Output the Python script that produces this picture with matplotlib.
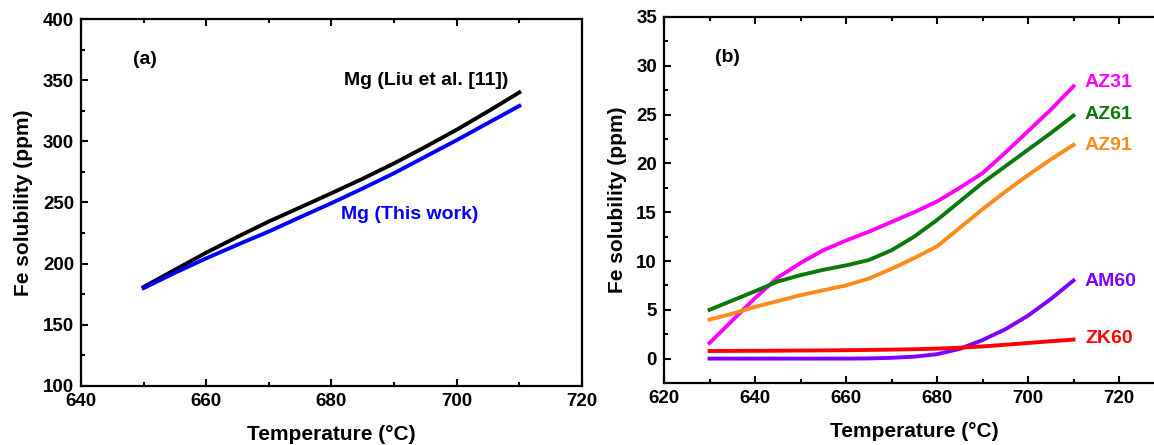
import matplotlib
matplotlib.use("Agg")
import matplotlib.pyplot as plt
from matplotlib.ticker import MultipleLocator

plt.rcParams["font.family"] = ["Liberation Sans", "DejaVu Sans"]
plt.rcParams["font.weight"] = "bold"

# ------------------------------------------------------------
# Data
# ------------------------------------------------------------
temp_a = [650, 655, 660, 665, 670, 675, 680, 685, 690, 695, 700, 705, 710]
mg_liu = [181, 195, 209, 222, 234.5, 246, 257.6, 269.5, 282, 295.5, 309.5, 324.5, 340]
mg_this = [180, 192.5, 204.4, 215.5, 226.3, 238, 249.5, 261.5, 274, 287.5, 301, 315, 329]

temp_b = [630, 635, 640, 645, 650, 655, 660, 665, 670, 675, 680, 685, 690, 695, 700, 705, 710]
az31 = [1.6, 3.9, 6.2, 8.3, 9.8, 11.1, 12.1, 13.0, 14.0, 15.0, 16.1, 17.5, 19.0, 21.1, 23.3, 25.5, 27.9]
az61 = [5.0, 5.95, 6.9, 7.9, 8.55, 9.1, 9.55, 10.1, 11.1, 12.5, 14.2, 16.1, 18.0, 19.7, 21.4, 23.1, 24.9]
az91 = [4.0, 4.6, 5.3, 5.9, 6.5, 7.0, 7.5, 8.2, 9.2, 10.3, 11.5, 13.4, 15.3, 17.1, 18.8, 20.4, 21.9]
am60 = [0, 0, 0, 0, 0, 0, 0, 0.02, 0.08, 0.2, 0.45, 1.0, 1.9, 3.0, 4.4, 6.1, 8.0]
zk60 = [0.78, 0.79, 0.8, 0.81, 0.83, 0.84, 0.86, 0.89, 0.92, 0.96, 1.02, 1.12, 1.25, 1.42, 1.6, 1.78, 1.95]

alloys = ["AZ31", "AZ61", "AZ91", "AM60", "ZK60"]
alloy_vals = [az31, az61, az91, am60, zk60]
alloy_colors = ["#FF00FF", "#0A780A", "#FF8C1A", "#8000FF", "#FF0000"]
alloy_label_y = [28.3, 25.0, 21.8, 7.9, 2.1]

# ------------------------------------------------------------
# Figure
# ------------------------------------------------------------
fig = plt.figure(figsize=(11.54, 4.45), dpi=100)
ax1 = fig.add_axes([0.0702, 0.1326, 0.4341, 0.8247])
ax2 = fig.add_axes([0.5754, 0.1393, 0.4337, 0.8225])


def style(ax):
    for s in ax.spines.values():
        s.set_linewidth(1.6)
    ax.tick_params(which="both", direction="in", top=True, right=False,
                   labelsize=13.5, width=1.5, pad=5)
    ax.tick_params(which="major", length=5)
    ax.tick_params(which="minor", length=3)
    for lab in ax.get_xticklabels() + ax.get_yticklabels():
        lab.set_fontweight("bold")
    ax.set_xlabel("Temperature (°C)", fontsize=15, fontweight="bold", labelpad=11)
    ax.set_ylabel("Fe solubility (ppm)", fontsize=15, fontweight="bold", labelpad=7)


# (a)
ax1.plot(temp_a, mg_liu, color="black", lw=2.8)
ax1.plot(temp_a, mg_this, color="#0000FF", lw=2.8)
ax1.set_xlim(640, 720)
ax1.set_ylim(100, 400)
ax1.xaxis.set_major_locator(MultipleLocator(20))
ax1.xaxis.set_minor_locator(MultipleLocator(10))
ax1.yaxis.set_major_locator(MultipleLocator(50))
ax1.yaxis.set_minor_locator(MultipleLocator(25))
style(ax1)
ax1.text(648.3, 367, "(a)", fontsize=14, fontweight="bold", va="center")
ax1.text(682, 350, "Mg (Liu et al. [11])", fontsize=14, fontweight="bold", va="center")
ax1.text(681.5, 240.5, "Mg (This work)", fontsize=14, fontweight="bold",
         va="center", color="#0000FF")

# (b)
for name, vals, c, ly in zip(alloys, alloy_vals, alloy_colors, alloy_label_y):
    ax2.plot(temp_b, vals, color=c, lw=2.8)
    ax2.text(712.5, ly, name, color=c, fontsize=14, fontweight="bold", va="center")
ax2.set_xlim(620, 730)
ax2.set_ylim(-2.5, 35)
ax2.xaxis.set_major_locator(MultipleLocator(20))
ax2.xaxis.set_minor_locator(MultipleLocator(10))
ax2.yaxis.set_major_locator(MultipleLocator(5))
ax2.yaxis.set_minor_locator(MultipleLocator(2.5))
style(ax2)
ax2.text(631.2, 30.9, "(b)", fontsize=14, fontweight="bold", va="center")

fig.savefig("out.png", dpi=100)
